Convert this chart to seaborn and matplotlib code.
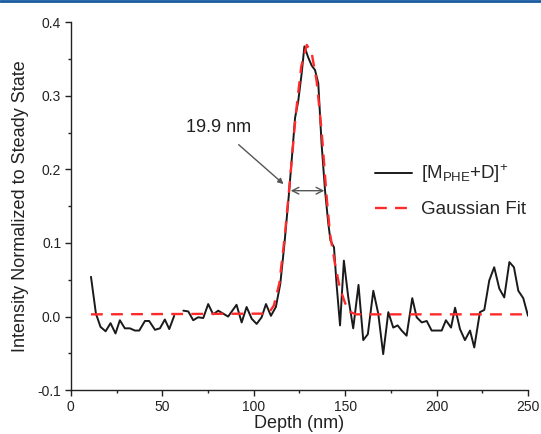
import numpy as np
import pandas as pd
import matplotlib
matplotlib.use("Agg")
import matplotlib.pyplot as plt
from matplotlib.lines import Line2D
from matplotlib.ticker import MultipleLocator
import seaborn as sns

# depth profile (nm) and normalized intensity
depth_a = [11.0, 13.7, 16.2, 19.0, 21.7, 24.4, 26.8, 29.5, 32.3, 35.0, 37.4,
           40.5, 42.8, 46.0, 48.7, 51.4, 53.8, 56.5]
intensity_a = [0.054, 0.004, -0.014, -0.020, -0.009, -0.023, -0.005, -0.016,
               -0.016, -0.019, -0.019, -0.006, -0.006, -0.018, -0.016, -0.004,
               -0.017, 0.001]

depth_b = [61.5, 64.2, 66.9, 69.6, 72.4, 75.1, 77.8, 80.6, 83.3, 86.0, 88.3,
           90.6, 93.4, 96.1, 98.9, 101.6, 104.3, 106.7, 109.4, 112.1, 114.5,
           116.8, 119.2, 121.0, 122.6, 124.3, 126.2, 127.7, 129.8, 131.7,
           133.5, 135.3, 137.1, 139.0, 140.8, 142.0, 143.9, 145.3, 147.2,
           149.3, 151.7, 154.4, 157.3, 159.9, 162.4, 165.4, 168.1, 170.8,
           173.6, 176.3, 178.7, 180.9, 183.6, 186.7, 189.1, 191.9, 194.6,
           197.3, 200.0, 202.8, 205.1, 207.9, 210.1, 212.8, 215.5, 218.3,
           220.6, 223.7, 226.1, 228.8, 231.5, 234.3, 237.0, 239.8, 242.3,
           244.7, 247.4, 250.0]
intensity_b = [0.008, 0.007, -0.005, -0.001, -0.002, 0.017, 0.003, 0.008,
               0.004, 0.000, 0.008, 0.016, -0.008, 0.013, -0.003, -0.010,
               -0.001, 0.017, 0.001, 0.013, 0.044, 0.099, 0.165, 0.220, 0.270,
               0.292, 0.330, 0.367, 0.352, 0.341, 0.335, 0.317, 0.235, 0.171,
               0.126, 0.103, 0.094, 0.044, -0.012, 0.076, 0.026, -0.016, 0.043,
               -0.032, -0.024, 0.035, 0.004, -0.051, 0.006, -0.015, -0.012,
               -0.019, -0.026, 0.025, -0.001, -0.008, -0.006, -0.019, -0.019,
               -0.019, -0.005, -0.015, 0.012, -0.017, -0.032, -0.019, -0.042,
               0.006, 0.009, 0.049, 0.067, 0.038, 0.026, 0.074, 0.067, 0.035,
               0.025, 0.001]

# gaussian fit curve
fit_depth = [11, 108, 111, 114, 117, 120, 123, 126, 129, 131.7, 134.4, 137.1,
             139.9, 141.7, 144.4, 147, 150, 153, 156, 250]
fit_value = [0.003, 0.004, 0.015, 0.045, 0.110, 0.190, 0.275, 0.340, 0.369,
             0.358, 0.320, 0.253, 0.162, 0.113, 0.072, 0.040, 0.018, 0.006,
             0.003, 0.003]

fwhm_label = "19.9 nm"

sns.set_theme(style="ticks")
plt.rcParams["font.family"] = ["Liberation Sans", "DejaVu Sans"]
plt.rcParams["mathtext.fontset"] = "custom"
plt.rcParams["mathtext.rm"] = "Liberation Sans"
plt.rcParams["mathtext.it"] = "Liberation Sans:italic"

fig = plt.figure(figsize=(5.41, 4.34), dpi=100)
ax = fig.add_axes([0.131, 0.101, 0.845, 0.848])

seg_a = pd.DataFrame({"depth": depth_a, "intensity": intensity_a})
seg_b = pd.DataFrame({"depth": depth_b, "intensity": intensity_b})
fit = pd.DataFrame({"depth": fit_depth, "value": fit_value})

sns.lineplot(data=seg_a, x="depth", y="intensity", ax=ax, color="#1a1a1a",
             lw=1.4, estimator=None, sort=False)
sns.lineplot(data=seg_b, x="depth", y="intensity", ax=ax, color="#1a1a1a",
             lw=1.4, estimator=None, sort=False)
sns.lineplot(data=fit, x="depth", y="value", ax=ax, color="#ff2a2a",
             lw=1.7, linestyle=(0, (5, 3.5)), estimator=None, sort=False)

ax.set_xlim(0, 250)
ax.set_ylim(-0.1, 0.4)
ax.xaxis.set_major_locator(MultipleLocator(50))
ax.xaxis.set_minor_locator(MultipleLocator(25))
ax.yaxis.set_major_locator(MultipleLocator(0.1))
ax.yaxis.set_minor_locator(MultipleLocator(0.05))
ax.yaxis.set_major_formatter(matplotlib.ticker.FormatStrFormatter("%.1f"))
ax.tick_params(which="major", direction="out", length=4, width=1,
               labelsize=10, colors="#222222", pad=3)
ax.tick_params(which="minor", direction="out", length=2.5, width=1,
               colors="#222222")
for s in ["top", "right"]:
    ax.spines[s].set_visible(False)
for s in ["left", "bottom"]:
    ax.spines[s].set_color("#222222")
    ax.spines[s].set_linewidth(1)

ax.set_xlabel("Depth (nm)", fontsize=13, color="#222222", labelpad=1)
ax.set_ylabel("Intensity Normalized to Steady State", fontsize=13,
              color="#222222", labelpad=6)

# FWHM annotation
ax.annotate("", xy=(138.6, 0.171), xytext=(120.2, 0.171),
            arrowprops=dict(arrowstyle="<->", color="#555555", lw=1,
                            shrinkA=0, shrinkB=0))
ax.annotate(fwhm_label, xy=(116.3, 0.180), xytext=(81, 0.257),
            fontsize=13, color="#222222", ha="center", va="center",
            arrowprops=dict(arrowstyle="-|>", color="#555555", lw=1,
                            shrinkA=6, shrinkB=0, mutation_scale=8))

handles = [Line2D([], [], color="#1a1a1a", lw=1.4),
           Line2D([], [], color="#ff2a2a", lw=1.7, linestyle=(0, (5, 3.5)))]
labels = [r"[M$_{\mathrm{PHE}}$+D]$^{+}$", "Gaussian Fit"]
ax.legend(handles, labels, loc="center left", bbox_to_anchor=(0.648, 0.543),
          frameon=False, fontsize=13.5, handlelength=2.0, handletextpad=0.5,
          labelspacing=0.85, borderaxespad=0)

fig.add_artist(Line2D([0, 1], [0.998, 0.998], transform=fig.transFigure,
                      color="#1a5aa0", lw=2))

fig.savefig("out.png", dpi=100)
